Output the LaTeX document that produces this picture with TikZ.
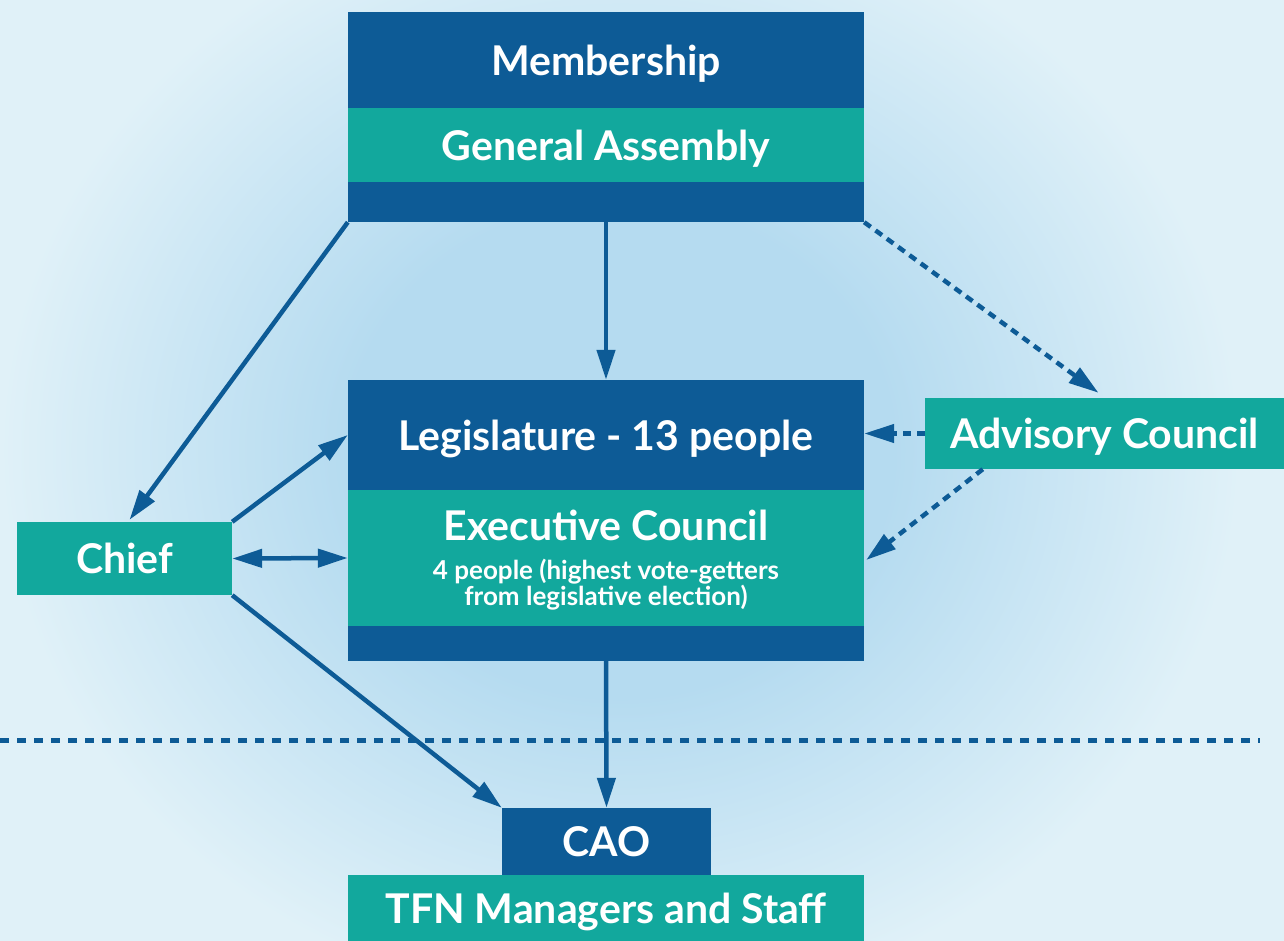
\documentclass[tikz,border=0pt]{standalone}
\usepackage{fontspec}
\setmainfont{Lato}
\usetikzlibrary{arrows.meta,calc}

\definecolor{orgblue}{HTML}{0D5B96}
\definecolor{orgteal}{HTML}{12A89D}
\definecolor{bgpale}{HTML}{E0F1F8}
\definecolor{bgglow}{HTML}{B5DBF0}
\pgfdeclareradialshading{glow}{\pgfpoint{0bp}{0bp}}{color(0bp)=(bgglow); color(11bp)=(bgglow); color(25bp)=(bgpale); color(50bp)=(bgpale)}
\newcommand{\bigtxt}{\bfseries\fontsize{41}{44}\selectfont}
\newcommand{\smalltxt}{\bfseries\fontsize{26}{25}\selectfont}

\begin{document}
\begin{tikzpicture}[x=1pt,y=-1pt,
  darkbox/.style={fill=orgblue,text=white,inner sep=0pt,text depth=0pt,font=\bigtxt},
  tealbox/.style={fill=orgteal,text=white,inner sep=0pt,text depth=0pt,font=\bigtxt},
  link/.style={draw=orgblue,line width=4.5pt,-{Triangle[length=30pt,width=18pt]}},
  dashlink/.style={link,dash pattern=on 8pt off 6pt}]

% background
\useasboundingbox (0,0) rectangle (1284,941);
\fill[bgpale] (0,0) rectangle (1284,941);
\shade[shading=glow] (620,450) ellipse (620 and 560);

% top block
\node[darkbox,minimum width=516,minimum height=96] (member) at (606,60) {Membership};
\node[tealbox,minimum width=516,minimum height=74] (assembly) at (606,145) {General Assembly};
\node[darkbox,minimum width=516,minimum height=40] (gaband) at (606,202) {};

% middle block
\node[darkbox,minimum width=516,minimum height=110] (legis) at (606,435) {Legislature - 13 people};
\node[tealbox,minimum width=516,minimum height=136,align=center] (exec) at (606,558)
  {Executive Council\\[-5pt]\smalltxt 4 people (highest vote-getters\\[-18pt]\smalltxt from legislative election)};
\node[darkbox,minimum width=516,minimum height=35] (execband) at (606,643.5) {};

% side boxes
\node[tealbox,minimum width=359,minimum height=71] (advisory) at (1104.5,433.5) {Advisory Council};
\node[tealbox,minimum width=215,minimum height=73] (chief) at (124.5,558.5) {Chief};

% bottom
\node[darkbox,minimum width=209,minimum height=67] (cao) at (606.5,841.5) {CAO};
\node[tealbox,minimum width=516,minimum height=66] (staff) at (606,908) {TFN Managers and Staff};

% connectors
\draw[link] (gaband.south west) -- ($(chief.north)+(5,-2)$);
\draw[link] (gaband.south) -- (legis.north);
\draw[dashlink] (gaband.south east) -- ($(advisory.north)+(-6,-5)$);
\draw[dashlink] (advisory.west) -- (advisory.west -| legis.east);
\draw[dashlink] ($(advisory.south west)+(58,0)$) -- ($(exec.east)+(2,2)$);
\draw[link] (chief.north east) -- (legis.west);
\draw[link,{Triangle[length=30pt,width=18pt]}-{Triangle[length=30pt,width=18pt]}] (chief.east) -- (exec.west);
\draw[link] (chief.south east) -- (cao.north west);
\draw[link] (execband.south) -- (cao.north);

% divider
\draw[orgblue,line width=5pt,dash pattern=on 9pt off 8pt] (0,740) -- (1260,740);
\end{tikzpicture}
\end{document}
